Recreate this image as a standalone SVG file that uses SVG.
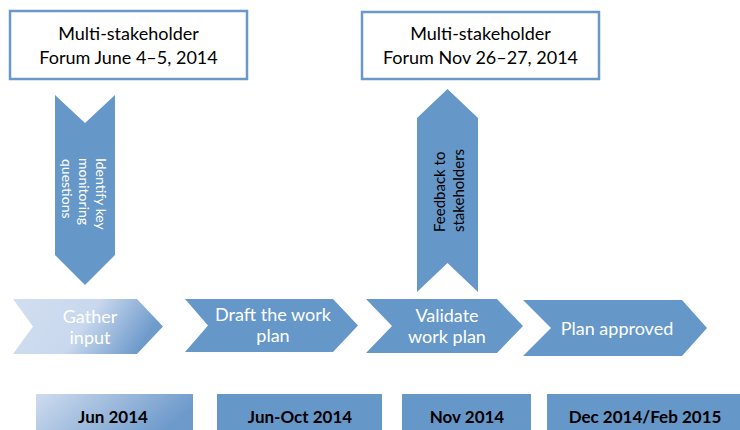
<svg xmlns="http://www.w3.org/2000/svg" width="740" height="430" viewBox="0 0 740 430">
<defs>
<linearGradient id="gIn" x1="0" y1="0" x2="1" y2="0.25">
<stop offset="0" stop-color="#d2def0"/>
<stop offset="0.55" stop-color="#c9d8ee"/>
<stop offset="1" stop-color="#6f9bcb"/>
</linearGradient>
<linearGradient id="gJun" x1="0" y1="0" x2="1" y2="0.3">
<stop offset="0" stop-color="#cfdcef"/>
<stop offset="1" stop-color="#6e9acb"/>
</linearGradient>
<style>
.box{fill:#fff;stroke:#6a98c9;stroke-width:2.5}
.blue{fill:#6697c9}
.t{font-family:Lato,"Open Sans",sans-serif}
.ttl{font-size:18px;fill:#000;text-anchor:middle}
.step{font-size:18px;fill:#fff;text-anchor:middle}
.date{font-size:17px;font-weight:bold;fill:#000;text-anchor:middle}
</style>
</defs>
<g id="forum1">
<rect class="box" x="10" y="11" width="237" height="68"/>
<text class="t ttl" x="128.5" y="40">Multi-stakeholder</text>
<text class="t ttl" x="128.5" y="64">Forum June 4–5, 2014</text>
</g>
<g id="forum2">
<rect class="box" x="362" y="12" width="237" height="67"/>
<text class="t ttl" x="480.5" y="40">Multi-stakeholder</text>
<text class="t ttl" x="480.5" y="64">Forum Nov 26–27, 2014</text>
</g>
<g id="connectors">
<g id="identify">
<polygon class="blue" points="55,95 85,123 115,95 115,255 85,285 55,255"/>
<g transform="translate(85,158) rotate(90)">
<text class="t" font-size="14" fill="#fff" x="0" y="-11">Identify key</text>
<text class="t" font-size="14" fill="#fff" x="0" y="6">monitoring</text>
<text class="t" font-size="14" fill="#fff" x="1" y="23">questions</text>
</g>
</g>
<g id="feedback">
<polygon class="blue" points="417,118 447.5,89 478,118 478,292 447.5,263 417,292"/>
<g transform="translate(447.5,232) rotate(-90)">
<text class="t" font-size="15" fill="#000" x="0" y="-3">Feedback to</text>
<text class="t" font-size="15" fill="#000" x="0" y="16">stakeholders</text>
</g>
</g>
</g>
<g id="gather">
<polygon fill="url(#gIn)" points="13,299 137,299 163,326.5 137,354 13,354 33,326.5"/>
<text class="t step" x="90" y="323">Gather</text>
<text class="t step" x="90" y="344">input</text>
</g>
<g id="draft">
<polygon class="blue" points="185,299 333,299 358,325.5 333,352 185,352 208,325.5"/>
<text class="t step" x="273" y="321">Draft the work</text>
<text class="t step" x="273" y="342">plan</text>
</g>
<g id="validate">
<polygon class="blue" points="366,299 497,299 523,326 497,353 366,353 392,326"/>
<text class="t step" x="447" y="322">Validate</text>
<text class="t step" x="447" y="343">work plan</text>
</g>
<g id="approved">
<polygon class="blue" points="523,300 682,300 707,328 682,356 523,356 551,328"/>
<text class="t step" x="617" y="335">Plan approved</text>
</g>
<g id="jun">
<rect fill="url(#gJun)" x="36" y="394" width="157" height="40"/>
<text class="t date" x="113" y="423">Jun 2014</text>
</g>
<g id="junoct">
<rect class="blue" x="217" y="394" width="165" height="40"/>
<text class="t date" x="300" y="423">Jun-Oct 2014</text>
</g>
<g id="nov">
<rect class="blue" x="402" y="394" width="129" height="40"/>
<text class="t date" x="467" y="423">Nov 2014</text>
</g>
<g id="dec">
<rect class="blue" x="547" y="394" width="195" height="40"/>
<text class="t date" x="645" y="423">Dec 2014/Feb 2015</text>
</g>
</svg>
